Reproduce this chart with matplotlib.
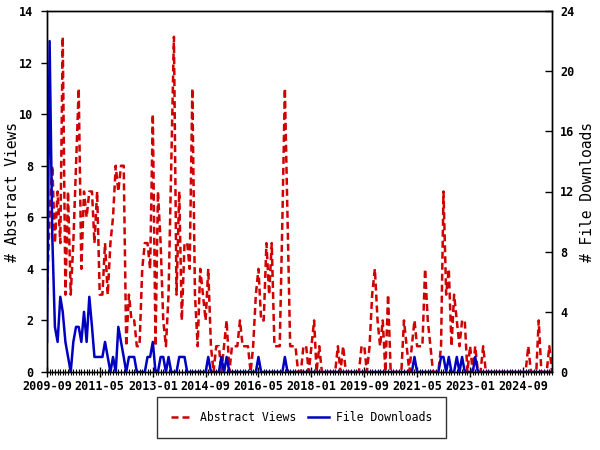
import matplotlib
matplotlib.use('Agg')
import matplotlib.pyplot as plt
import matplotlib.dates as mdates
import pandas as pd

# monthly counts starting 2009-09
views = [3, 6, 8, 5, 7, 5, 13, 3, 7, 3, 5, 8, 11, 4, 7, 6, 7, 7, 5, 7,
         3, 3, 5, 3, 5, 6, 8, 7, 8, 8, 1, 3, 2, 2, 1, 1, 4, 5, 5, 4,
         10, 1, 7, 5, 2, 1, 3, 8, 13, 3, 7, 2, 5, 5, 4, 11, 3, 1, 4, 3,
         2, 4, 1, 0, 1, 1, 0, 1, 2, 0, 1, 1, 1, 2, 1, 1, 1, 0, 1, 3,
         4, 2, 2, 5, 3, 5, 1, 1, 1, 6, 11, 6, 1, 1, 1, 0, 0, 1, 1, 0,
         1, 2, 0, 1, 0, 0, 0, 0, 0, 0, 1, 0, 1, 0, 0, 0, 0, 0, 0, 1,
         1, 0, 1, 3, 4, 2, 1, 2, 0, 3, 0, 0, 0, 0, 0, 2, 1, 0, 1, 2,
         1, 1, 1, 4, 2, 1, 0, 0, 0, 1, 7, 3, 4, 1, 3, 2, 1, 2, 2, 0,
         1, 0, 1, 0, 0, 1, 0, 0, 0, 0, 0, 0, 0, 0, 0, 0, 0, 0, 0, 0,
         0, 0, 1, 0, 0, 0, 2, 0, 0, 0, 1, 0]

downloads = [2, 22, 9, 3, 2, 5, 4, 2, 1, 0, 2, 3, 3, 2, 4, 2, 5, 3, 1, 1,
             1, 1, 2, 1, 0, 1, 0, 3, 2, 1, 0, 1, 1, 1, 0, 0, 0, 0, 1, 1,
             2, 0, 0, 1, 1, 0, 1, 0, 0, 0, 1, 1, 1, 0, 0, 0, 0, 0, 0, 0,
             0, 1, 0, 0, 0, 0, 1, 0, 1, 0, 0, 0, 0, 0, 0, 0, 0, 0, 0, 0,
             1, 0, 0, 0, 0, 0, 0, 0, 0, 0, 1, 0, 0, 0, 0, 0, 0, 0, 0, 0,
             0, 0, 0, 0, 0, 0, 0, 0, 0, 0, 0, 0, 0, 0, 0, 0, 0, 0, 0, 0,
             0, 0, 0, 0, 0, 0, 0, 0, 0, 0, 0, 0, 0, 0, 0, 0, 0, 0, 0, 1,
             0, 0, 0, 0, 0, 0, 0, 0, 0, 1, 1, 0, 1, 0, 0, 1, 0, 1, 0, 0,
             0, 0, 1, 0, 0, 0, 0, 0, 0, 0, 0, 0, 0, 0, 0, 0, 0, 0, 0, 0,
             0, 0, 0, 0, 0, 0, 0, 0, 0, 0, 0, 0]

start_month = '2009-09'
tick_every = 20
views_ticks = [0, 2, 4, 6, 8, 10, 12, 14]
downloads_ticks = [0, 4, 8, 12, 16, 20, 24]

months = pd.date_range(start_month, periods=len(views), freq='MS')

plt.rcParams['font.family'] = ['DejaVu Sans Mono']
plt.rcParams['font.weight'] = 'bold'

fig = plt.figure(figsize=(6, 4.5), dpi=100)
ax = fig.add_axes([47 / 600, 1 - 372 / 450, 505 / 600, 361 / 450])
ax2 = ax.twinx()

red, = ax.plot(months, views, color='#d00000', linewidth=1.8,
               linestyle=(0, (2.8, 1.6)), label='Abstract Views')
blue, = ax2.plot(months, downloads, color='#0000c0', linewidth=1.8,
                 label='File Downloads')

ax.set_xlim(months[0], months[-1])
ax.set_ylim(0, 14)
ax2.set_ylim(0, 24)
ax.set_yticks(views_ticks)
ax2.set_yticks(downloads_ticks)

ax.set_xticks(months[::tick_every])
ax.set_xticks(months, minor=True)
ax.xaxis.set_major_formatter(mdates.DateFormatter('%Y-%m'))

ax.tick_params(axis='x', which='major', direction='inout', length=7, width=1,
               labelsize=8.5, pad=2)
ax.tick_params(axis='x', which='minor', direction='inout', length=4, width=0.8)
ax.tick_params(axis='y', direction='out', length=4, width=1, labelsize=8.5, pad=6)
ax2.tick_params(axis='y', direction='in', length=5, width=1, labelsize=8.5, pad=6)

for a in (ax, ax2):
    for s in a.spines.values():
        s.set_linewidth(1)
        s.set_color('black')

ax.set_ylabel('# Abstract Views', fontsize=10.5, fontweight='normal', labelpad=-1)
ax2.set_ylabel('# File Downloads', fontsize=10.5, fontweight='normal', labelpad=4,
               rotation=90)

leg = fig.legend(handles=[red, blue], loc='center', bbox_to_anchor=(0.503, 0.072),
                 ncol=2, frameon=True, fancybox=False,
                 handlelength=1.9, handletextpad=0.6, columnspacing=1.0,
                 borderpad=1.2,
                 prop={'family': 'DejaVu Sans Mono', 'size': 8.3, 'weight': 'normal'})
leg.get_frame().set_edgecolor('black')
leg.get_frame().set_linewidth(1)

fig.savefig('out.png', dpi=100)
